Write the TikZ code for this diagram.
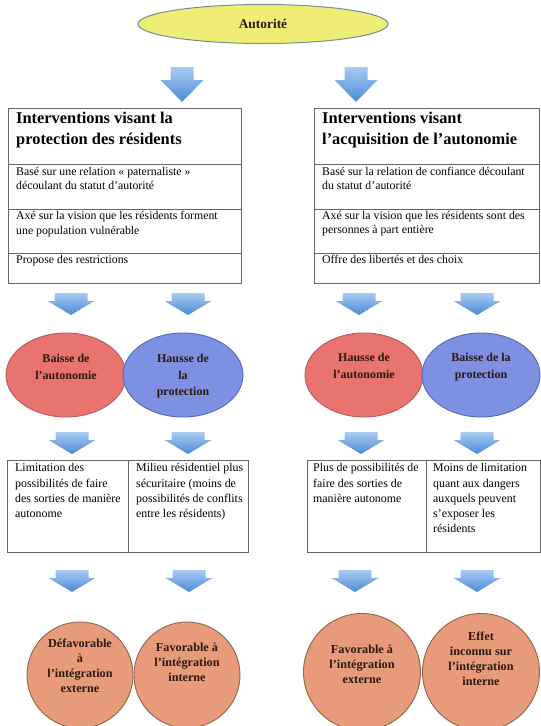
\documentclass[tikz,border=0pt]{standalone}
\usepackage{fontspec}
\setmainfont{Liberation Serif}
\usetikzlibrary{shapes.geometric}
\definecolor{arrtop}{HTML}{A9CBF2}
\definecolor{arrbot}{HTML}{4A8AD6}
\definecolor{tabline}{HTML}{666666}
\definecolor{yelfill}{HTML}{EEEE74}
\definecolor{yelline}{HTML}{7A8A96}
\definecolor{redfill}{HTML}{E9736F}
\definecolor{redline}{HTML}{B85A58}
\definecolor{bluefill}{HTML}{7D90E2}
\definecolor{blueline}{HTML}{5068B8}
\definecolor{salfill}{HTML}{E89B7A}
\definecolor{salline}{HTML}{8E6452}
\definecolor{darktxt}{HTML}{2A1810}
\tikzset{
  bigarrow/.pic={\path[top color=arrtop,bottom color=arrbot]
    (-11.5,0) -- (11.5,0) -- (11.5,13) -- (21.5,13) -- (0,35) -- (-21.5,13) -- (-11.5,13) -- cycle;},
  smallarrow/.pic={\path[top color=arrtop,bottom color=arrbot]
    (-16.5,0) -- (16.5,0) -- (16.5,8) -- (23.5,8) -- (0,22) -- (-23.5,8) -- (-16.5,8) -- cycle;},
  cell/.style={draw=tabline,line width=1pt,rectangle,inner sep=0,anchor=north west},
  headtxt/.style={anchor=north west,inner sep=0,align=left,font=\fontsize{16.4}{21}\selectfont\bfseries},
  bodytxt/.style={anchor=north west,inner sep=0,align=left,font=\fontsize{11.8}{14.5}\selectfont},
  celltxt/.style={anchor=north west,inner sep=0,align=left,font=\fontsize{11.9}{15.2}\selectfont},
  ovaltxt/.style={anchor=north,inner sep=0,align=center,text=darktxt,font=\fontsize{12}{16.5}\selectfont\bfseries},
  circtxt/.style={anchor=north,inner sep=0,align=center,text=darktxt,font=\fontsize{12.2}{15}\selectfont\bfseries},
  redoval/.style={ellipse,draw=redline,fill=redfill,line width=0.9pt,minimum height=84,inner sep=0},
  blueoval/.style={ellipse,draw=blueline,fill=bluefill,line width=0.9pt,minimum height=84,inner sep=0},
  salcirc/.style={circle,draw=salline,fill=salfill,line width=0.9pt,inner sep=0},
}
\begin{document}
\begin{tikzpicture}[x=1pt,y=-1pt]
\useasboundingbox (0,0) rectangle (541,726);
% top ellipse
\node[ellipse,draw=yelline,fill=yelfill,line width=1pt,minimum width=250,minimum height=39,
  text=darktxt,font=\fontsize{13.4}{15}\selectfont\bfseries] (aut) at (263,24) {Autorité};
\pic at (182,67) {bigarrow};
\pic at (356,67) {bigarrow};
% left table
\node[cell,minimum width=233,minimum height=56] (hL) at (8,108) {};
\node[cell,minimum width=233,minimum height=45] (r1L) at (8,164) {};
\node[cell,minimum width=233,minimum height=44] (r2L) at (8,209) {};
\node[cell,minimum width=233,minimum height=30] (r3L) at (8,253) {};
\node[headtxt] (hLt) at (16,111.7) {Interventions visant la\\protection des résidents};
\node[bodytxt] (r1Lt) at (16,166.7) {Basé sur une relation « paternaliste »\\découlant du statut d’autorité};
\node[bodytxt] (r2Lt) at (16,211) {Axé sur la vision que les résidents forment\\une population vulnérable};
\node[bodytxt] (r3Lt) at (16,255) {Propose des restrictions};
% right table
\node[cell,minimum width=225,minimum height=56] (hR) at (314,108) {};
\node[cell,minimum width=225,minimum height=45] (r1R) at (314,164) {};
\node[cell,minimum width=225,minimum height=44] (r2R) at (314,209) {};
\node[cell,minimum width=225,minimum height=30] (r3R) at (314,253) {};
\node[headtxt] (hRt) at (322,111.7) {Interventions visant\\l’acquisition de l’autonomie};
\node[bodytxt] (r1Rt) at (322,166.7) {Basé sur la relation de confiance découlant\\du statut d’autorité};
\node[bodytxt] (r2Rt) at (322,211) {Axé sur la vision que les résidents sont des\\personnes à part entière};
\node[bodytxt] (r3Rt) at (322,255) {Offre des libertés et des choix};
% arrows row 1
\pic at (71,293) {smallarrow};
\pic at (188,293) {smallarrow};
\pic at (359,293) {smallarrow};
\pic at (477,293) {smallarrow};
% ovals
\node[redoval,minimum width=120] (o1) at (66,375) {};
\node[blueoval,minimum width=120] (o2) at (183,375) {};
\node[redoval,minimum width=118] (o3) at (364,375) {};
\node[blueoval,minimum width=118] (o4) at (481,375) {};
\node[ovaltxt] (o1t) at (66,354) {Baisse de\\l’autonomie};
\node[ovaltxt] (o2t) at (183,354) {Hausse de\\la\\protection};
\node[ovaltxt] (o3t) at (364,353) {Hausse de\\l’autonomie};
\node[ovaltxt] (o4t) at (481,353) {Baisse de la\\protection};
% arrows row 2
\pic at (72,432) {smallarrow};
\pic at (188,432) {smallarrow};
\pic at (361,432) {smallarrow};
\pic at (477,432) {smallarrow};
% row 3 boxes
\node[cell,minimum width=121,minimum height=92] (bL1) at (7,460) {};
\node[cell,minimum width=120,minimum height=92] (bL2) at (128,460) {};
\node[cell,minimum width=119,minimum height=92] (bR1) at (307,460) {};
\node[cell,minimum width=114,minimum height=92] (bR2) at (426,460) {};
\node[celltxt] (bL1t) at (15,463.5) {Limitation des\\possibilités de faire\\des sorties de manière\\autonome};
\node[celltxt] (bL2t) at (136,463.5) {Milieu résidentiel plus\\sécuritaire (moins de\\possibilités de conflits\\entre les résidents)};
\node[celltxt] (bR1t) at (313,463.5) {Plus de possibilités de\\faire des sorties de\\manière autonome};
\node[celltxt] (bR2t) at (433,463.5) {Moins de limitation\\quant aux dangers\\auxquels peuvent\\s’exposer les\\résidents};
% arrows row 3
\pic at (72,570) {smallarrow};
\pic at (189,570) {smallarrow};
\pic at (355,570) {smallarrow};
\pic at (477,570) {smallarrow};
% circles
\node[salcirc,minimum size=106] (c1) at (80,675) {};
\node[salcirc,minimum size=106] (c2) at (187,675) {};
\node[salcirc,minimum size=117] (c3) at (362,672) {};
\node[salcirc,minimum size=117] (c4) at (481,672) {};
\node[circtxt] (c1t) at (80,638.5) {Défavorable\\à\\l’intégration\\externe};
\node[circtxt] (c2t) at (187,642.5) {Favorable à\\l’intégration\\interne};
\node[circtxt] (c3t) at (362,644.5) {Favorable à\\l’intégration\\externe};
\node[circtxt] (c4t) at (481,631.5) {Effet\\inconnu sur\\l’intégration\\interne};
\end{tikzpicture}
\end{document}
